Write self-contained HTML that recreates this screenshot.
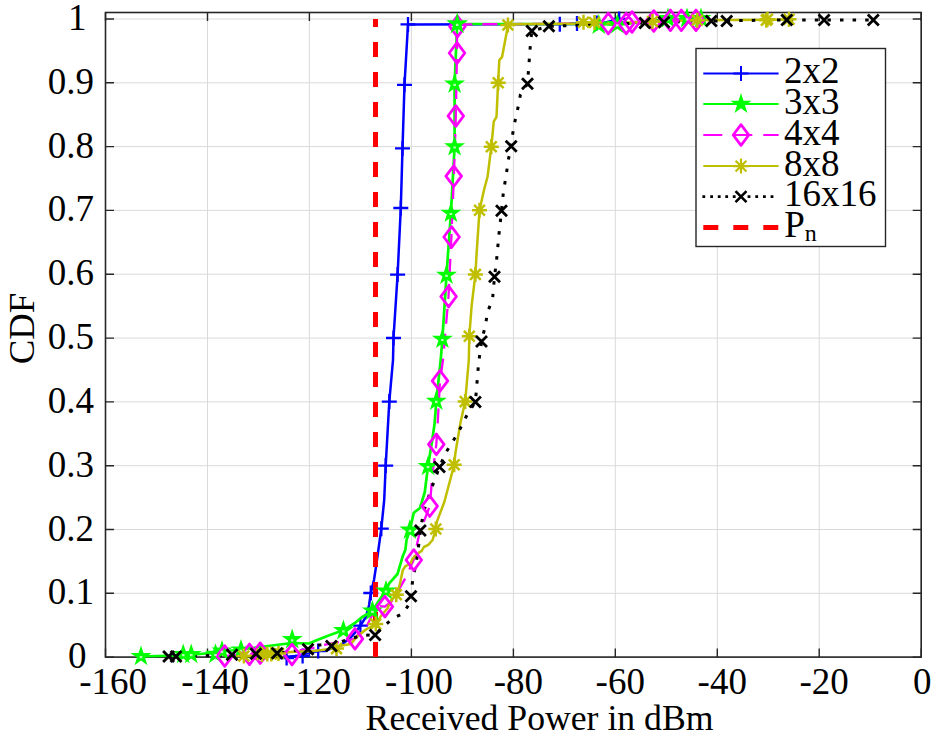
<!DOCTYPE html>
<html><head><meta charset="utf-8"><style>
html,body{margin:0;padding:0;background:#fff;width:939px;height:736px;overflow:hidden}
svg{display:block}
text{font-family:"Liberation Serif",serif;fill:#000}
</style></head><body>
<svg width="939" height="736" viewBox="0 0 939 736">
<rect width="939" height="736" fill="#fff"/>
<path d="M105.5 12.5V657.1 M207.5 12.5V657.1 M309.4 12.5V657.1 M411.4 12.5V657.1 M513.4 12.5V657.1 M615.3 12.5V657.1 M717.3 12.5V657.1 M819.2 12.5V657.1 M921.2 12.5V657.1 M105.5 657.1H921.2 M105.5 593.3H921.2 M105.5 529.5H921.2 M105.5 465.7H921.2 M105.5 401.9H921.2 M105.5 338.1H921.2 M105.5 274.2H921.2 M105.5 210.4H921.2 M105.5 146.6H921.2 M105.5 82.8H921.2 M105.5 19.0H921.2" stroke="#dadada" stroke-width="1" fill="none"/>
<rect x="105.5" y="12.5" width="815.7" height="644.6" fill="none" stroke="#262626" stroke-width="1.6"/>
<path d="M105.5 657.1v-8.5 M105.5 12.5v8.5 M207.5 657.1v-8.5 M207.5 12.5v8.5 M309.4 657.1v-8.5 M309.4 12.5v8.5 M411.4 657.1v-8.5 M411.4 12.5v8.5 M513.4 657.1v-8.5 M513.4 12.5v8.5 M615.3 657.1v-8.5 M615.3 12.5v8.5 M717.3 657.1v-8.5 M717.3 12.5v8.5 M819.2 657.1v-8.5 M819.2 12.5v8.5 M921.2 657.1v-8.5 M921.2 12.5v8.5 M105.5 657.1h8.5 M921.2 657.1h-8.5 M105.5 593.3h8.5 M921.2 593.3h-8.5 M105.5 529.5h8.5 M921.2 529.5h-8.5 M105.5 465.7h8.5 M921.2 465.7h-8.5 M105.5 401.9h8.5 M921.2 401.9h-8.5 M105.5 338.1h8.5 M921.2 338.1h-8.5 M105.5 274.2h8.5 M921.2 274.2h-8.5 M105.5 210.4h8.5 M921.2 210.4h-8.5 M105.5 146.6h8.5 M921.2 146.6h-8.5 M105.5 82.8h8.5 M921.2 82.8h-8.5 M105.5 19.0h8.5 M921.2 19.0h-8.5" stroke="#262626" stroke-width="1.4" fill="none"/>
<path d="M283.0 657.0 L302.6 655.5 L305.6 653.7 L318.2 651.0 L326.0 650.3 L340.0 646.0 L350.6 637.6 L355.5 632.2 L360.4 625.7 L365.9 617.0 L369.1 605.0 L370.8 593.0 L374.0 580.0 L376.6 562.8 L381.3 528.7 L384.2 500.0 L385.7 465.6 L389.3 401.6 L393.0 360.0 L393.5 338.0 L397.6 274.6 L400.8 208.0 L402.5 148.4 L404.5 84.8 L408.0 24.4 L600.0 24.0 L619.0 19.0" stroke="#0000ff" stroke-width="2.5" fill="none" stroke-linejoin="round"/>
<path d="M279.1 658.0h15.0 M286.6 650.5v15.0 M295.1 656.0h15.0 M302.6 648.5v15.0 M310.7 651.0h15.0 M318.2 643.5v15.0 M352.9 625.7h15.0 M360.4 618.2v15.0 M363.3 593.0h15.0 M370.8 585.5v15.0 M373.8 528.7h15.0 M381.3 521.2v15.0 M378.2 465.6h15.0 M385.7 458.1v15.0 M381.8 401.6h15.0 M389.3 394.1v15.0 M386.0 338.0h15.0 M393.5 330.5v15.0 M390.1 274.6h15.0 M397.6 267.1v15.0 M393.3 208.0h15.0 M400.8 200.5v15.0 M395.0 148.4h15.0 M402.5 140.9v15.0 M397.0 84.8h15.0 M404.5 77.3v15.0 M400.5 24.4h15.0 M408.0 16.9v15.0 M552.3 24.2h15.0 M559.8 16.7v15.0 M569.5 23.5h15.0 M577.0 16.0v15.0 M589.3 23.0h15.0 M596.8 15.5v15.0 M611.7 19.0h15.0 M619.2 11.5v15.0" stroke="#0000ff" stroke-width="2.3" fill="none"/>
<path d="M375.5 657.1V19.0" stroke="#ff0000" stroke-width="5" fill="none" stroke-dasharray="15 15"/>
<path d="M141.0 656.5 L190.0 655.0 L215.0 652.5 L240.0 649.5 L264.0 646.5 L292.0 643.0 L309.0 643.5 L317.2 640.1 L327.4 636.1 L337.6 632.3 L343.4 630.5 L355.0 623.0 L361.5 617.5 L372.4 611.0 L378.9 600.7 L386.0 590.9 L389.0 583.7 L397.5 574.0 L402.7 556.3 L405.4 549.8 L406.5 540.0 L409.9 530.0 L413.8 512.8 L420.0 508.0 L424.8 492.0 L428.0 466.4 L432.1 440.7 L434.6 423.6 L436.3 401.1 L440.7 360.0 L442.4 339.2 L446.5 275.1 L450.9 213.2 L454.6 146.7 L454.6 84.0 L457.2 24.0 L600.0 24.0 L617.0 25.0 L668.0 19.0 L701.0 19.0" stroke="#00ff00" stroke-width="2.7" fill="none" stroke-linejoin="round"/>
<path d="M225.0 656.0 L249.0 654.4 L260.0 653.3 L292.0 652.0 L314.5 647.6 L324.0 644.9 L341.6 641.5 L355.0 638.8 L360.4 631.0 L365.9 627.8 L376.7 606.0 L384.9 606.6 L393.0 600.0 L406.0 577.0 L413.7 559.9 L419.4 533.3 L429.7 506.2 L431.0 492.0 L432.1 477.4 L436.3 444.4 L437.8 421.0 L440.0 380.8 L443.0 360.0 L448.5 296.4 L451.4 237.0 L453.9 175.8 L455.8 116.0 L457.0 53.0 L457.0 24.4 L600.0 23.5 L653.8 21.0 L670.0 20.3 L696.0 20.3" stroke="#ff00ff" stroke-width="2.3" fill="none" stroke-dasharray="15 10" stroke-linejoin="round"/>
<path d="M243.0 656.5 L267.0 654.0 L290.0 652.0 L313.8 651.0 L326.0 649.6 L337.6 646.3 L350.6 644.1 L357.2 636.5 L365.9 629.5 L375.7 624.0 L381.0 615.9 L387.6 608.3 L390.3 601.7 L396.3 594.7 L399.6 585.4 L402.7 570.4 L405.4 566.1 L410.3 563.9 L412.5 559.0 L416.8 554.1 L421.7 550.9 L423.9 547.0 L428.3 544.9 L432.6 540.0 L435.6 529.5 L437.0 521.4 L444.4 501.8 L454.2 464.7 L455.4 453.0 L460.3 423.6 L465.2 401.6 L468.8 360.0 L469.3 336.2 L471.7 305.0 L475.4 274.4 L476.6 253.6 L479.5 210.3 L484.0 190.0 L487.6 176.5 L491.3 146.7 L493.8 121.3 L496.5 117.0 L498.1 83.0 L499.3 60.2 L502.0 57.2 L507.9 26.0 L510.0 24.2 L600.0 23.5 L697.0 20.3 L789.0 19.5" stroke="#bfbf00" stroke-width="2.5" fill="none" stroke-linejoin="round"/>
<path d="M168.0 656.5 L209.6 655.6 L232.5 654.8 L256.0 653.8 L277.0 653.2 L300.2 650.0 L308.0 649.3 L312.8 646.3 L324.6 644.2 L331.4 645.9 L338.3 642.5 L361.5 635.4 L375.1 634.9 L383.3 626.7 L392.5 618.6 L403.4 613.2 L409.9 602.8 L411.0 596.3 L411.5 590.3 L413.0 577.5 L415.8 565.0 L417.9 552.0 L420.4 530.4 L423.6 511.6 L431.0 489.6 L439.5 467.1 L445.6 453.0 L457.8 433.4 L467.6 413.8 L475.4 402.0 L478.6 363.0 L481.5 341.6 L485.6 324.5 L487.6 311.5 L492.5 300.0 L494.5 276.8 L496.5 261.0 L499.0 234.0 L501.5 210.8 L503.5 191.2 L506.0 176.5 L508.4 159.4 L511.2 146.3 L512.8 133.3 L515.2 120.2 L518.0 107.7 L520.4 94.7 L527.5 83.8 L530.4 44.5 L531.8 30.9 L548.9 26.3 L644.8 22.9 L664.0 22.3 L711.3 21.0 L786.8 19.9 L873.3 19.9" stroke="#000000" stroke-width="3" fill="none" stroke-dasharray="3.5 9.1"/>
<path d="M141.0 645.4 L143.5 653.0 L151.5 653.0 L145.0 657.7 L147.5 665.3 L141.0 660.6 L134.5 665.3 L137.0 657.7 L130.5 653.0 L138.5 653.0Z M183.2 643.4 L185.7 651.0 L193.7 651.0 L187.2 655.7 L189.7 663.3 L183.2 658.6 L176.7 663.3 L179.2 655.7 L172.7 651.0 L180.7 651.0Z M191.2 643.4 L193.7 651.0 L201.7 651.0 L195.2 655.7 L197.7 663.3 L191.2 658.6 L184.7 663.3 L187.2 655.7 L180.7 651.0 L188.7 651.0Z M215.5 643.2 L218.0 650.8 L226.0 650.8 L219.5 655.5 L222.0 663.1 L215.5 658.4 L209.0 663.1 L211.5 655.5 L205.0 650.8 L213.0 650.8Z M222.0 640.0 L224.5 647.6 L232.5 647.6 L226.0 652.3 L228.5 659.9 L222.0 655.2 L215.5 659.9 L218.0 652.3 L211.5 647.6 L219.5 647.6Z M241.0 639.0 L243.5 646.6 L251.5 646.6 L245.0 651.3 L247.5 658.9 L241.0 654.2 L234.5 658.9 L237.0 651.3 L230.5 646.6 L238.5 646.6Z M292.2 628.5 L294.7 636.1 L302.7 636.1 L296.2 640.8 L298.7 648.4 L292.2 643.7 L285.7 648.4 L288.2 640.8 L281.7 636.1 L289.7 636.1Z M343.4 619.5 L345.9 627.1 L353.9 627.1 L347.4 631.8 L349.9 639.4 L343.4 634.7 L336.9 639.4 L339.4 631.8 L332.9 627.1 L340.9 627.1Z M372.4 600.0 L374.9 607.6 L382.9 607.6 L376.4 612.3 L378.9 619.9 L372.4 615.2 L365.9 619.9 L368.4 612.3 L361.9 607.6 L369.9 607.6Z M386.0 579.9 L388.5 587.5 L396.5 587.5 L390.0 592.2 L392.5 599.8 L386.0 595.1 L379.5 599.8 L382.0 592.2 L375.5 587.5 L383.5 587.5Z M409.9 519.0 L412.4 526.6 L420.4 526.6 L413.9 531.3 L416.4 538.9 L409.9 534.2 L403.4 538.9 L405.9 531.3 L399.4 526.6 L407.4 526.6Z M428.0 455.4 L430.5 463.0 L438.5 463.0 L432.0 467.7 L434.5 475.3 L428.0 470.6 L421.5 475.3 L424.0 467.7 L417.5 463.0 L425.5 463.0Z M436.3 390.1 L438.8 397.7 L446.8 397.7 L440.3 402.4 L442.8 410.0 L436.3 405.3 L429.8 410.0 L432.3 402.4 L425.8 397.7 L433.8 397.7Z M442.4 328.2 L444.9 335.8 L452.9 335.8 L446.4 340.5 L448.9 348.1 L442.4 343.4 L435.9 348.1 L438.4 340.5 L431.9 335.8 L439.9 335.8Z M446.5 264.1 L449.0 271.7 L457.0 271.7 L450.5 276.4 L453.0 284.0 L446.5 279.3 L440.0 284.0 L442.5 276.4 L436.0 271.7 L444.0 271.7Z M450.9 202.2 L453.4 209.8 L461.4 209.8 L454.9 214.5 L457.4 222.1 L450.9 217.4 L444.4 222.1 L446.9 214.5 L440.4 209.8 L448.4 209.8Z M454.6 135.7 L457.1 143.3 L465.1 143.3 L458.6 148.0 L461.1 155.6 L454.6 150.9 L448.1 155.6 L450.6 148.0 L444.1 143.3 L452.1 143.3Z M454.6 73.0 L457.1 80.6 L465.1 80.6 L458.6 85.3 L461.1 92.9 L454.6 88.2 L448.1 92.9 L450.6 85.3 L444.1 80.6 L452.1 80.6Z M457.2 13.0 L459.7 20.6 L467.7 20.6 L461.2 25.3 L463.7 32.9 L457.2 28.2 L450.7 32.9 L453.2 25.3 L446.7 20.6 L454.7 20.6Z M598.8 14.0 L601.3 21.6 L609.3 21.6 L602.8 26.3 L605.3 33.9 L598.8 29.2 L592.3 33.9 L594.8 26.3 L588.3 21.6 L596.3 21.6Z M617.3 13.5 L619.8 21.1 L627.8 21.1 L621.3 25.8 L623.8 33.4 L617.3 28.7 L610.8 33.4 L613.3 25.8 L606.8 21.1 L614.8 21.1Z M668.0 7.5 L670.5 15.1 L678.5 15.1 L672.0 19.8 L674.5 27.4 L668.0 22.7 L661.5 27.4 L664.0 19.8 L657.5 15.1 L665.5 15.1Z M687.0 7.5 L689.5 15.1 L697.5 15.1 L691.0 19.8 L693.5 27.4 L687.0 22.7 L680.5 27.4 L683.0 19.8 L676.5 15.1 L684.5 15.1Z M701.0 7.5 L703.5 15.1 L711.5 15.1 L705.0 19.8 L707.5 27.4 L701.0 22.7 L694.5 27.4 L697.0 19.8 L690.5 15.1 L698.5 15.1Z" fill="#00ff00"/>
<path d="M224.7 645.7L232.5 656.0L224.7 666.3L216.9 656.0Z M249.5 644.0L257.3 654.3L249.5 664.6L241.7 654.3Z M260.2 642.9L268.0 653.2L260.2 663.5L252.4 653.2Z M292.0 644.2L299.8 654.5L292.0 664.8L284.2 654.5Z M355.0 628.5L362.8 638.8L355.0 649.1L347.2 638.8Z M384.9 596.3L392.7 606.6L384.9 616.9L377.1 606.6Z M413.8 549.7L421.6 560.0L413.8 570.3L406.0 560.0Z M429.7 495.9L437.5 506.2L429.7 516.5L421.9 506.2Z M436.3 434.1L444.1 444.4L436.3 454.7L428.5 444.4Z M440.0 370.5L447.8 380.8L440.0 391.1L432.2 380.8Z M448.6 286.2L456.4 296.5L448.6 306.8L440.8 296.5Z M451.6 226.7L459.4 237.0L451.6 247.3L443.8 237.0Z M453.7 165.9L461.5 176.2L453.7 186.5L445.9 176.2Z M455.8 105.7L463.6 116.0L455.8 126.3L448.0 116.0Z M457.0 42.7L464.8 53.0L457.0 63.3L449.2 53.0Z M457.4 16.2L465.2 26.5L457.4 36.8L449.6 26.5Z M608.3 13.2L616.1 23.5L608.3 33.8L600.5 23.5Z M626.2 13.2L634.0 23.5L626.2 33.8L618.4 23.5Z M632.0 11.7L639.8 22.0L632.0 32.3L624.2 22.0Z M653.8 10.7L661.6 21.0L653.8 31.3L646.0 21.0Z M670.4 10.0L678.2 20.3L670.4 30.6L662.6 20.3Z M681.3 10.0L689.1 20.3L681.3 30.6L673.5 20.3Z M696.0 10.0L703.8 20.3L696.0 30.6L688.2 20.3Z" stroke="#ff00ff" stroke-width="2.8" fill="none" stroke-linejoin="round"/>
<path d="M457.2 13.0 L459.7 20.6 L467.7 20.6 L461.2 25.3 L463.7 32.9 L457.2 28.2 L450.7 32.9 L453.2 25.3 L446.7 20.6 L454.7 20.6Z" fill="#00ff00"/>
<path d="M139.7 656.1h2.6v2.2h-2.6z M181.9 654.1h2.6v2.2h-2.6z M189.9 654.1h2.6v2.2h-2.6z M214.2 653.9h2.6v2.2h-2.6z M220.7 650.7h2.6v2.2h-2.6z M239.7 649.7h2.6v2.2h-2.6z M290.9 639.2h2.6v2.2h-2.6z M342.1 630.2h2.6v2.2h-2.6z M371.1 610.7h2.6v2.2h-2.6z M384.7 590.6h2.6v2.2h-2.6z M408.6 529.7h2.6v2.2h-2.6z M426.7 466.1h2.6v2.2h-2.6z M435.0 400.8h2.6v2.2h-2.6z M441.1 338.9h2.6v2.2h-2.6z M445.2 274.8h2.6v2.2h-2.6z M449.6 212.9h2.6v2.2h-2.6z M453.3 146.4h2.6v2.2h-2.6z M453.3 83.7h2.6v2.2h-2.6z M455.9 23.7h2.6v2.2h-2.6z M597.5 24.7h2.6v2.2h-2.6z M616.0 24.2h2.6v2.2h-2.6z M666.7 18.2h2.6v2.2h-2.6z M685.7 18.2h2.6v2.2h-2.6z M699.7 18.2h2.6v2.2h-2.6z" fill="#fff" fill-opacity="0.7"/>
<path d="M243.9 648.5v15.0 M238.5 650.6l10.799999999999999 10.799999999999999 M238.5 661.4l10.799999999999999 -10.799999999999999 M236.4 656.0h15.0 M262.0 647.0v15.0 M256.6 649.1l10.799999999999999 10.799999999999999 M256.6 659.9l10.799999999999999 -10.799999999999999 M254.5 654.5h15.0 M267.3 646.4v15.0 M261.9 648.5l10.799999999999999 10.799999999999999 M261.9 659.3l10.799999999999999 -10.799999999999999 M259.8 653.9h15.0 M271.3 646.4v15.0 M265.9 648.5l10.799999999999999 10.799999999999999 M265.9 659.3l10.799999999999999 -10.799999999999999 M263.8 653.9h15.0 M278.5 646.0v15.0 M273.1 648.1l10.799999999999999 10.799999999999999 M273.1 658.9l10.799999999999999 -10.799999999999999 M271.0 653.5h15.0 M336.5 641.1v15.0 M331.1 643.2l10.799999999999999 10.799999999999999 M331.1 654.0l10.799999999999999 -10.799999999999999 M329.0 648.6h15.0 M375.7 616.5v15.0 M370.3 618.6l10.799999999999999 10.799999999999999 M370.3 629.4l10.799999999999999 -10.799999999999999 M368.2 624.0h15.0 M396.3 587.2v15.0 M390.9 589.3l10.799999999999999 10.799999999999999 M390.9 600.1l10.799999999999999 -10.799999999999999 M388.8 594.7h15.0 M435.8 521.5v15.0 M430.4 523.6l10.799999999999999 10.799999999999999 M430.4 534.4l10.799999999999999 -10.799999999999999 M428.3 529.0h15.0 M454.2 457.2v15.0 M448.8 459.3l10.799999999999999 10.799999999999999 M448.8 470.1l10.799999999999999 -10.799999999999999 M446.7 464.7h15.0 M465.2 394.1v15.0 M459.8 396.2l10.799999999999999 10.799999999999999 M459.8 407.0l10.799999999999999 -10.799999999999999 M457.7 401.6h15.0 M469.3 328.7v15.0 M463.9 330.8l10.799999999999999 10.799999999999999 M463.9 341.6l10.799999999999999 -10.799999999999999 M461.8 336.2h15.0 M475.4 266.9v15.0 M470.0 269.0l10.799999999999999 10.799999999999999 M470.0 279.8l10.799999999999999 -10.799999999999999 M467.9 274.4h15.0 M479.5 202.8v15.0 M474.1 204.9l10.799999999999999 10.799999999999999 M474.1 215.7l10.799999999999999 -10.799999999999999 M472.0 210.3h15.0 M491.3 139.3v15.0 M485.9 141.4l10.799999999999999 10.799999999999999 M485.9 152.2l10.799999999999999 -10.799999999999999 M483.8 146.8h15.0 M498.2 75.2v15.0 M492.8 77.3l10.799999999999999 10.799999999999999 M492.8 88.1l10.799999999999999 -10.799999999999999 M490.7 82.7h15.0 M507.9 17.5v15.0 M502.5 19.6l10.799999999999999 10.799999999999999 M502.5 30.4l10.799999999999999 -10.799999999999999 M500.4 25.0h15.0 M583.5 14.8v15.0 M578.1 16.9l10.799999999999999 10.799999999999999 M578.1 27.7l10.799999999999999 -10.799999999999999 M576.0 22.3h15.0 M594.5 15.0v15.0 M589.1 17.1l10.799999999999999 10.799999999999999 M589.1 27.9l10.799999999999999 -10.799999999999999 M587.0 22.5h15.0 M652.5 14.1v15.0 M647.1 16.2l10.799999999999999 10.799999999999999 M647.1 27.0l10.799999999999999 -10.799999999999999 M645.0 21.6h15.0 M697.3 12.8v15.0 M691.9 14.9l10.799999999999999 10.799999999999999 M691.9 25.7l10.799999999999999 -10.799999999999999 M689.8 20.3h15.0 M766.3 12.8v15.0 M760.9 14.9l10.799999999999999 10.799999999999999 M760.9 25.7l10.799999999999999 -10.799999999999999 M758.8 20.3h15.0 M767.5 11.7v15.0 M762.1 13.8l10.799999999999999 10.799999999999999 M762.1 24.6l10.799999999999999 -10.799999999999999 M760.0 19.2h15.0 M789.0 11.7v15.0 M783.6 13.8l10.799999999999999 10.799999999999999 M783.6 24.6l10.799999999999999 -10.799999999999999 M781.5 19.2h15.0" stroke="#bfbf00" stroke-width="2.5" fill="none"/>
<path d="M163.1 651.0l11.0 11.0 M163.1 662.0l11.0 -11.0 M170.5 651.0l11.0 11.0 M170.5 662.0l11.0 -11.0 M226.5 649.3l11.0 11.0 M226.5 660.3l11.0 -11.0 M250.4 648.3l11.0 11.0 M250.4 659.3l11.0 -11.0 M271.7 647.7l11.0 11.0 M271.7 658.7l11.0 -11.0 M302.5 643.8l11.0 11.0 M302.5 654.8l11.0 -11.0 M325.9 640.4l11.0 11.0 M325.9 651.4l11.0 -11.0 M369.6 629.4l11.0 11.0 M369.6 640.4l11.0 -11.0 M405.5 590.8l11.0 11.0 M405.5 601.8l11.0 -11.0 M414.9 524.9l11.0 11.0 M414.9 535.9l11.0 -11.0 M434.0 461.6l11.0 11.0 M434.0 472.6l11.0 -11.0 M469.9 396.5l11.0 11.0 M469.9 407.5l11.0 -11.0 M476.0 336.1l11.0 11.0 M476.0 347.1l11.0 -11.0 M489.0 271.3l11.0 11.0 M489.0 282.3l11.0 -11.0 M496.0 205.3l11.0 11.0 M496.0 216.3l11.0 -11.0 M505.7 140.8l11.0 11.0 M505.7 151.8l11.0 -11.0 M522.0 78.3l11.0 11.0 M522.0 89.3l11.0 -11.0 M526.3 25.4l11.0 11.0 M526.3 36.4l11.0 -11.0 M543.4 20.8l11.0 11.0 M543.4 31.8l11.0 -11.0 M639.3 17.4l11.0 11.0 M639.3 28.4l11.0 -11.0 M658.5 16.8l11.0 11.0 M658.5 27.8l11.0 -11.0 M705.8 15.5l11.0 11.0 M705.8 26.5l11.0 -11.0 M721.2 15.5l11.0 11.0 M721.2 26.5l11.0 -11.0 M781.3 14.4l11.0 11.0 M781.3 25.4l11.0 -11.0 M818.6 14.4l11.0 11.0 M818.6 25.4l11.0 -11.0 M867.8 14.4l11.0 11.0 M867.8 25.4l11.0 -11.0" stroke="#000000" stroke-width="2.8" fill="none"/>
<rect x="696" y="48.5" width="189.5" height="198.0" fill="#fff" stroke="#262626" stroke-width="1.4"/>
<path d="M703.3 73.4H778.6" stroke="#0000ff" stroke-width="2"/>
<path d="M733.5 73.4h15.0 M741.0 65.9v15.0" stroke="#0000ff" stroke-width="2"/>
<path d="M703.3 104.1H778.6" stroke="#00ff00" stroke-width="2"/>
<path d="M741.0 93.1 L743.5 100.7 L751.5 100.7 L745.0 105.4 L747.5 113.0 L741.0 108.3 L734.5 113.0 L737.0 105.4 L730.5 100.7 L738.5 100.7Z" fill="#00ff00"/>
<path d="M703.3 135H778.6" stroke="#ff00ff" stroke-width="2" stroke-dasharray="19 11"/>
<path d="M741.0 124.7L748.8 135.0L741.0 145.3L733.2 135.0Z" stroke="#ff00ff" stroke-width="2.8" fill="none" stroke-linejoin="round"/>
<path d="M703.3 166.1H778.6" stroke="#bfbf00" stroke-width="2"/>
<path d="M741.0 158.6v15.0 M735.6 160.7l10.799999999999999 10.799999999999999 M735.6 171.5l10.799999999999999 -10.799999999999999 M733.5 166.1h15.0" stroke="#bfbf00" stroke-width="2.2" fill="none"/>
<path d="M702.4 195.3h2.8v2.8h-2.8z M710.2 195.3h2.8v2.8h-2.8z M717.8 195.3h2.8v2.8h-2.8z M725.3 195.3h2.8v2.8h-2.8z M732.8 195.3h2.8v2.8h-2.8z M747.6 195.3h2.8v2.8h-2.8z M755.3 195.3h2.8v2.8h-2.8z M763.0 195.3h2.8v2.8h-2.8z M770.6 195.3h2.8v2.8h-2.8z" fill="#000"/>
<path d="M735.5 191.2l11.0 11.0 M735.5 202.2l11.0 -11.0" stroke="#000000" stroke-width="2.6" fill="none"/>
<path d="M703.3 227.6H778.6" stroke="#ff0000" stroke-width="5" stroke-dasharray="15 15"/>
<text x="68.0" y="668.1" font-size="37" text-anchor="start" >0</text><text x="47.7" y="604.3" font-size="37" text-anchor="start" >0.1</text><text x="47.7" y="540.5" font-size="37" text-anchor="start" >0.2</text><text x="47.7" y="476.7" font-size="37" text-anchor="start" >0.3</text><text x="47.7" y="412.9" font-size="37" text-anchor="start" >0.4</text><text x="47.7" y="349.1" font-size="37" text-anchor="start" >0.5</text><text x="47.7" y="285.2" font-size="37" text-anchor="start" >0.6</text><text x="47.7" y="221.4" font-size="37" text-anchor="start" >0.7</text><text x="47.7" y="157.6" font-size="37" text-anchor="start" >0.8</text><text x="47.7" y="93.8" font-size="37" text-anchor="start" >0.9</text><text x="68.0" y="30.0" font-size="37" text-anchor="start" >1</text><text x="79.2" y="694.3" font-size="37" text-anchor="start" >-160</text><text x="181.2" y="694.3" font-size="37" text-anchor="start" >-140</text><text x="283.1" y="694.3" font-size="37" text-anchor="start" >-120</text><text x="385.1" y="694.3" font-size="37" text-anchor="start" >-100</text><text x="493.7" y="694.3" font-size="37" text-anchor="start" >-80</text><text x="595.6" y="694.3" font-size="37" text-anchor="start" >-60</text><text x="697.6" y="694.3" font-size="37" text-anchor="start" >-40</text><text x="799.5" y="694.3" font-size="37" text-anchor="start" >-20</text><text x="912.9" y="694.3" font-size="37" text-anchor="start" >0</text><text x="365.6" y="729.9" font-size="35.7" text-anchor="start" >Received Power in dBm</text><text x="0" y="0" font-size="36.8" text-anchor="middle" transform="translate(34 328.5) rotate(-90)">CDF</text><text x="784.0" y="82.9" font-size="37" text-anchor="start" >2x2</text><text x="784.0" y="113.6" font-size="37" text-anchor="start" >3x3</text><text x="784.0" y="144.5" font-size="37" text-anchor="start" >4x4</text><text x="784.0" y="175.6" font-size="37" text-anchor="start" >8x8</text><text x="784.0" y="206.2" font-size="37" text-anchor="start" >16x16</text><text x="784.2" y="237.0" font-size="37">P<tspan font-size="24" dy="3.5">n</tspan></text>
</svg>
</body></html>
